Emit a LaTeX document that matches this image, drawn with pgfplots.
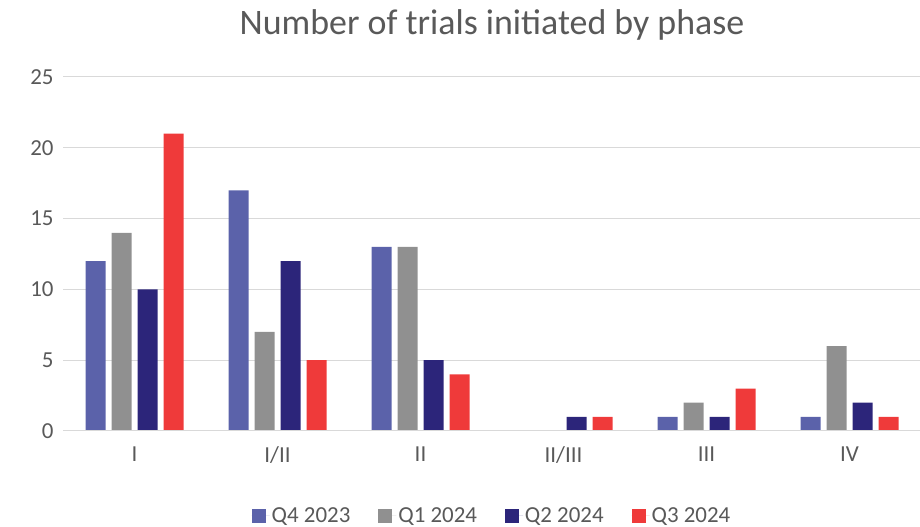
\documentclass[border=0pt]{standalone}
\usepackage{pgfplots}
\pgfplotsset{compat=1.18}
\usepackage{fontspec}
\setmainfont{Carlito}
\definecolor{cA}{HTML}{5B62AA}
\definecolor{cB}{HTML}{909090}
\definecolor{cC}{HTML}{2C257A}
\definecolor{cD}{HTML}{EF3A3A}
\definecolor{txt}{HTML}{595959}
\definecolor{grd}{HTML}{D9D9D9}
\begin{document}
\begin{tikzpicture}[x=1bp,y=1bp]
\path[use as bounding box] (0,0) rectangle (920,527);
\begin{axis}[
  at={(63bp,96bp)}, anchor=south west,
  scale only axis, width=858bp, height=354bp,
  xmin=-0.5, xmax=5.5, ymin=0, ymax=25,
  ybar, bar width=20bp,
  xtick=data, xticklabels={I,I/II,II,II/III,III,IV},
  ytick={0,5,...,25},
  major tick length=0pt,
  axis line style={draw=none},
  ymajorgrids, grid style={grd, line width=1bp},
  tick label style={font=\fontsize{23}{26}\selectfont, text=txt},
  /pgf/number format/assume math mode=true,
  yticklabel style={xshift=-6bp},
  xticklabel style={yshift=-12bp},
  title={Number of trials initiated by phase},
  title style={font=\fontsize{36}{40}\selectfont, text=txt, at={(0.5,1)}, yshift=27bp},
  legend style={at={(0.5,-0.205)}, anchor=north, draw=none, legend columns=4,
    font=\fontsize{23}{26}\selectfont, text=txt,
    /tikz/every even column/.append style={column sep=26bp}},
  legend image code/.code={\fill[#1] (0bp,-7bp) rectangle (14bp,7bp);
    \path (0bp,0bp) -- (18bp,0bp);},
  clip=false,
]
\addplot[fill=cA, draw=none, bar shift=-39bp] coordinates {(0,12) (1,17) (2,13) (3,0) (4,1) (5,1)};
\addplot[fill=cB, draw=none, bar shift=-13bp] coordinates {(0,14) (1,7) (2,13) (3,0) (4,2) (5,6)};
\addplot[fill=cC, draw=none, bar shift=13bp] coordinates {(0,10) (1,12) (2,5) (3,1) (4,1) (5,2)};
\addplot[fill=cD, draw=none, bar shift=39bp] coordinates {(0,21) (1,5) (2,4) (3,1) (4,3) (5,1)};
\legend{Q4 2023, Q1 2024, Q2 2024, Q3 2024}
\draw[grd, line width=1bp] (rel axis cs:0,0) -- (rel axis cs:1,0);
\end{axis}
\end{tikzpicture}
\end{document}
